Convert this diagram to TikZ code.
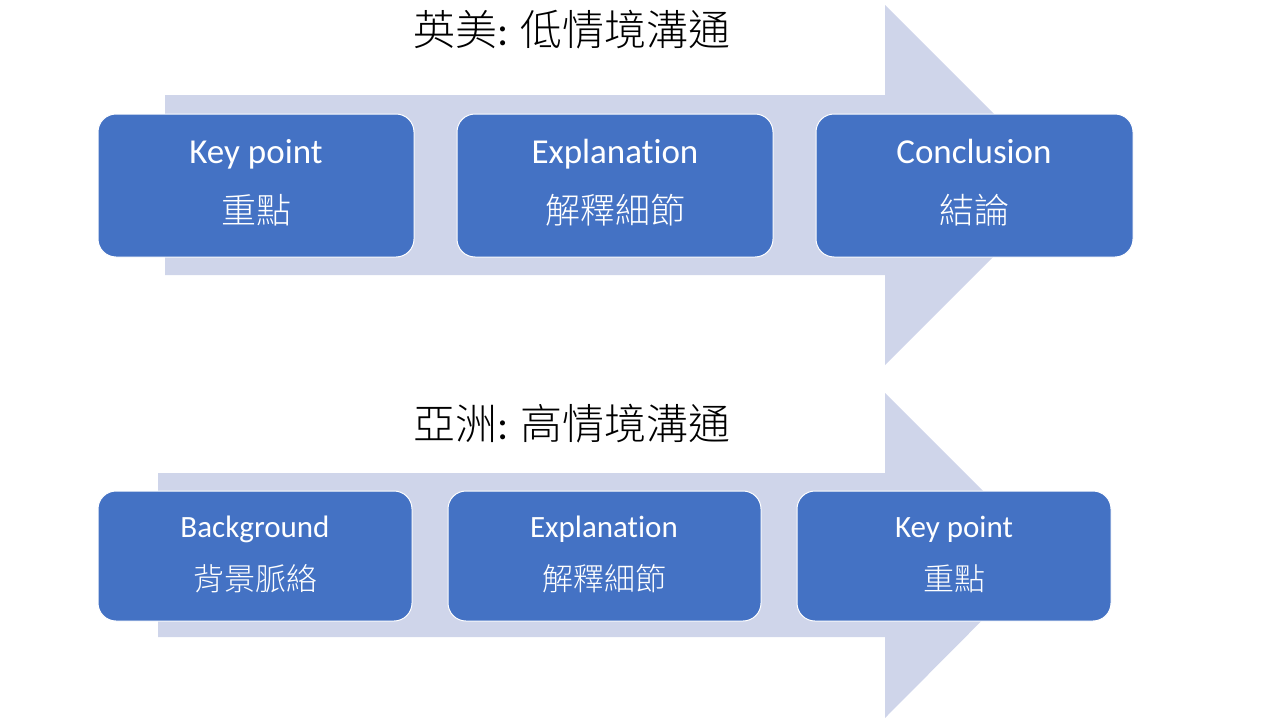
\documentclass[tikz,border=0pt]{standalone}
\usepackage{fontspec}
\setmainfont[RawFeature=-liga]{Carlito}
\newfontfamily\cjk{Noto Sans CJK TC Light}
\definecolor{arr}{HTML}{CFD5EA}
\definecolor{bx}{HTML}{4472C4}
\begin{document}
\begin{tikzpicture}[x=1pt,y=-1pt]
\tikzset{boxst/.style={fill=bx,draw=white,line width=1pt,rounded corners=18pt},
 lbl/.style={text=white,align=center,font=\fontsize{35}{60}\selectfont}}
\useasboundingbox (0,0) rectangle (1280,720);
\fill[arr] (165,95) -- (885,95) -- (885,5) -- (1065,185) -- (885,365) -- (885,275) -- (165,275) -- cycle;
\fill[arr] (158,473) -- (885,473) -- (885,393) -- (1047,555) -- (885,718) -- (885,637) -- (158,637) -- cycle;
\node (t1) at (572,30) {\fontsize{42}{48}\selectfont\cjk 英美\rmfamily: \cjk 低情境溝通};
\node (t2) at (572,424) {\fontsize{42}{48}\selectfont\cjk 亞洲\rmfamily: \cjk 高情境溝通};
\draw[boxst] (98,114) rectangle (414,257); \node[lbl] (a1) at (256,183) {Key point\\{\cjk 重點}};
\draw[boxst] (457,114) rectangle (773,257); \node[lbl] (a2) at (615,183) {Explanation\\{\cjk 解釋細節}};
\draw[boxst] (816,114) rectangle (1133,257); \node[lbl] (a3) at (974,183) {Conclusion\\{\cjk 結論}};
\tikzset{lbl2/.style={lbl,font=\fontsize{31}{53}\selectfont}}
\draw[boxst] (98,491) rectangle (412,621); \node[lbl2] (b1) at (255,554) {Background\\{\cjk 背景脈絡}};
\draw[boxst] (448,491) rectangle (761,621); \node[lbl2] (b2) at (604,554) {Explanation\\{\cjk 解釋細節}};
\draw[boxst] (797,491) rectangle (1111,621); \node[lbl2] (b3) at (954,554) {Key point\\{\cjk 重點}};
\end{tikzpicture}
\end{document}
